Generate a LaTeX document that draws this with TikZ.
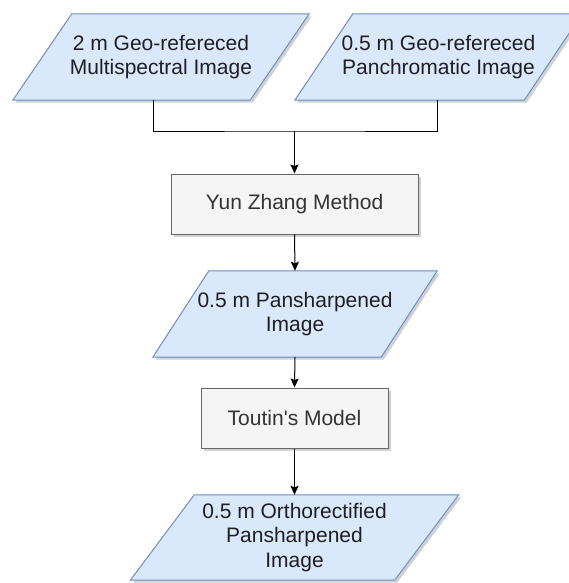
\documentclass[tikz,border=0pt]{standalone}
\usepackage{fontspec}
\setmainfont{Liberation Sans}
\usetikzlibrary{arrows.meta,shadows}
\pgfdeclarelayer{bg}
\pgfsetlayers{bg,main}
\definecolor{bluefill}{HTML}{DAE8FC}
\definecolor{bluedraw}{HTML}{6C8EBF}
\definecolor{grayfill}{HTML}{F5F5F5}
\definecolor{graydraw}{HTML}{666666}
\definecolor{graytext}{HTML}{333333}
\tikzset{
  x=1pt, y=1pt,
  txt/.style={align=center, inner sep=0pt, font=\fontsize{21}{24.5}\selectfont},
  paranode/.style={txt, text=black!88, draw=none},
  parashape/.style={fill=bluefill, draw=bluedraw, line width=1pt,
     drop shadow={shadow xshift=2.5pt, shadow yshift=-2.5pt, opacity=0.18, fill=black}},
  procbox/.style={txt, text=graytext, fill=grayfill, draw=graydraw, line width=1pt,
     drop shadow={shadow xshift=2.5pt, shadow yshift=-2.5pt, opacity=0.18, fill=black}},
  link/.style={draw=black, line width=1pt},
  arr/.style={link, -{Stealth[length=9pt,width=8pt,inset=1.5pt]}},
}
\newcommand{\myparashape}[2]{%
  \begin{pgfonlayer}{bg}
  \path[parashape] ([xshift=-#2]#1.south west) -- ([xshift=-#2]#1.south east)
     -- ([xshift=#2]#1.north east) -- ([xshift=#2]#1.north west) -- cycle;
  \end{pgfonlayer}}
\begin{document}
\begin{tikzpicture}
\useasboundingbox (0,0) rectangle (569,-583);
% input parallelograms
\node[paranode, minimum width=237pt, minimum height=86pt] (A) at (161,-57)
  {2 m Geo-refereced\\Multispectral Image};
\myparashape{A}{29.5pt}
\node[paranode, minimum width=229pt, minimum height=86pt] (B) at (438.5,-57)
  {0.5 m Geo-refereced\\Panchromatic Image};
\myparashape{B}{29pt}
% Yun Zhang
\node[procbox, minimum width=247pt, minimum height=60pt] (Y) at (294.5,-204)
  {Yun Zhang Method};
% pansharpened
\node[paranode, minimum width=228pt, minimum height=86pt] (P) at (295,-314)
  {0.5 m Pansharpened\\Image};
\myparashape{P}{28pt}
% Toutin
\node[procbox, minimum width=187pt, minimum height=60pt] (T) at (294.5,-418)
  {Toutin\textquotesingle s Model};
% ortho
\node[paranode, minimum width=264pt, minimum height=85pt] (O) at (294.5,-537.5)
  {0.5 m Orthorectified\\Pansharpened\\Image};
\myparashape{O}{32pt}
% connectors
\coordinate (J) at (294.5,-131);
\draw[link] ([xshift=-8pt]A.south) |- (J) -| ([xshift=-1.5pt]B.south);
\draw[arr] (J) -- (Y.north);
\draw[arr] (Y.south) -- (P.north);
\draw[arr] (P.south) -- (T.north);
\draw[arr] (T.south) -- (O.north);
\end{tikzpicture}
\end{document}
